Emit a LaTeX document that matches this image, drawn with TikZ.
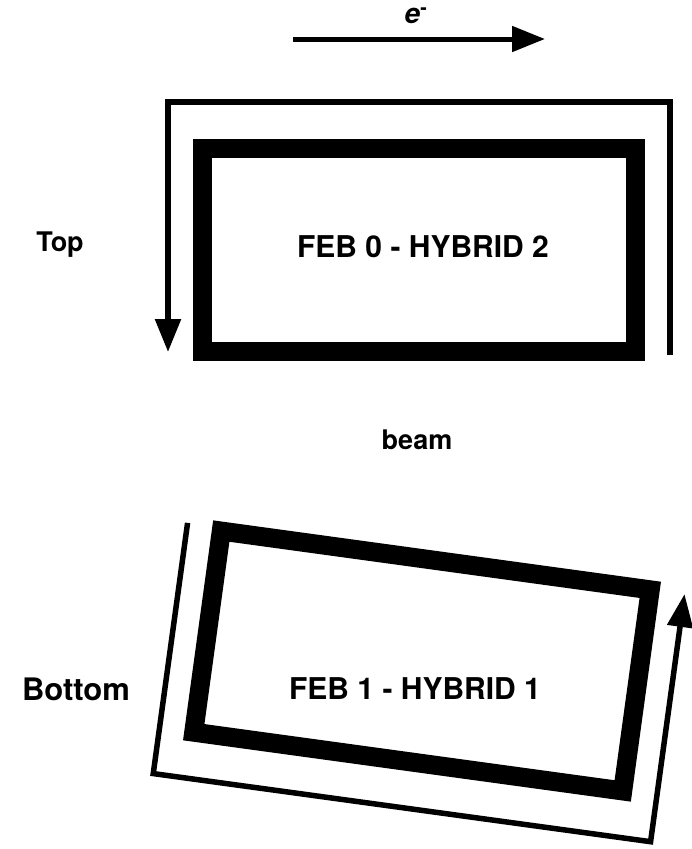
\documentclass[tikz,border=0pt]{standalone}
\usepackage{fontspec}
\setmainfont{TeX Gyre Heros}
\usetikzlibrary{arrows.meta}
\tikzset{
  frame/.style={line width=19pt},
  track/.style={line width=5.5pt},
  label/.style={font=\fontsize{27}{30}\selectfont\bfseries, inner sep=0pt},
  feb/.style={font=\fontsize{30}{33}\selectfont\bfseries, inner sep=0pt},
  head/.style={-{Triangle[length=33pt,width=25pt]}}
}
\begin{document}
\begin{tikzpicture}[x=1pt,y=-1pt]
\useasboundingbox (0,0) rectangle (692,849);

% electron direction
\coordinate (eA) at (293,39);
\coordinate (eB) at (545,39);
\draw[line width=5pt, head] (eA) -- (eB);
\node[font=\fontsize{28}{30}\selectfont\bfseries, inner sep=0pt] (elec) at (416,16) {\textit{e}\textsuperscript{-}};

% top module
\begin{scope}[shift={(419,250)}]
  \draw[frame] (-216.5,-101.5) rectangle (216.5,101.5);
  \coordinate (t0) at (251,105);
  \coordinate (t1) at (251,-148);
  \coordinate (t2) at (-251,-148);
  \coordinate (t3) at (-251,102);
  \draw[track, head] (t0) -- (t1) -- (t2) -- (t3);
\end{scope}
\node[feb] (feb0) at (423,247) {FEB 0 - HYBRID 2};
\node[label] (top) at (60,245) {Top};

\node[label] (beam) at (417,440) {beam};

% bottom module, tilted
\begin{scope}[shift={(422,661)}, rotate=172.2]
  \draw[frame] (-216.5,-101.5) rectangle (216.5,101.5);
  \coordinate (b0) at (251,105);
  \coordinate (b1) at (251,-148);
  \coordinate (b2) at (-251,-148);
  \coordinate (b3) at (-251,102);
  \draw[track, head] (b0) -- (b1) -- (b2) -- (b3);
\end{scope}
\node[feb] (feb1) at (415,689) {FEB 1 - HYBRID 1};
\node[font=\fontsize{31}{34}\selectfont\bfseries, inner sep=0pt] (bottom) at (76,689) {Bottom};
\end{tikzpicture}
\end{document}
